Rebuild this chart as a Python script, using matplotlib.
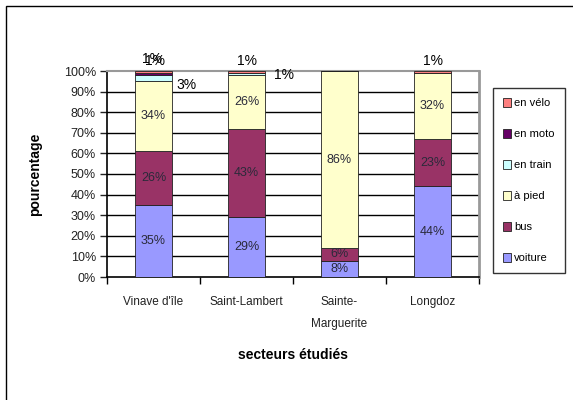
import matplotlib
matplotlib.use('Agg')
import numpy as np
import matplotlib.pyplot as plt
from matplotlib.patches import Rectangle
from matplotlib.ticker import FixedLocator, PercentFormatter

plt.rcParams['font.family'] = ['Liberation Sans', 'DejaVu Sans']

# data
sectors = ["Vinave d'île", "Saint-Lambert", "Sainte-\nMarguerite", "Longdoz"]
modes = ["voiture", "bus", "à pied", "en train", "en moto", "en vélo"]
voiture = [35, 29, 8, 44]
bus = [26, 43, 6, 23]
a_pied = [34, 26, 86, 32]
en_train = [3, 1, 0, 0]
en_moto = [1, 0, 0, 0]
en_velo = [1, 1, 0, 1]
colors = ['#9999FF', '#993366', '#FFFFCC', '#CCFFFF', '#660066', '#FF8080']

series = [voiture, bus, a_pied, en_train, en_moto, en_velo]

fig = plt.figure(figsize=(5.73, 4.0), dpi=100)
ax = fig.add_axes([107 / 573, 1 - 277 / 400, 372 / 573, 206 / 400])

x = np.arange(len(sectors))
bottom = np.zeros(len(sectors))
bars = []
for vals, name, col in zip(series, modes, colors):
    b = ax.bar(x, vals, 0.4, bottom=bottom, color=col, edgecolor='#222222',
               linewidth=0.6, label=name, zorder=3)
    bars.append(b)
    for i, v in enumerate(vals):
        if v >= 5:
            ax.text(x[i], bottom[i] + v / 2, f"{v}%", ha='center', va='center',
                    fontsize=9, color='#2a2a3a', zorder=4)
    bottom += np.array(vals)

# small values placed outside the bars (offsets in points)
small = [
    (0, 4, (-1, 11)),   # Vinave moto
    (0, 5, (1, 8)),     # Vinave velo
    (0, 3, (24, -5)),   # Vinave train
    (1, 5, (0, 8)),     # Saint-Lambert velo
    (1, 3, (27, -1)),   # Saint-Lambert train
    (3, 5, (0, 8)),     # Longdoz velo
]
for i, s, off in small:
    v = series[s][i]
    base = sum(series[k][i] for k in range(s))
    ax.annotate(f"{v}%", (x[i], base + v / 2), xytext=off,
                textcoords='offset points', ha='center', va='center',
                fontsize=10, color='black', zorder=5, annotation_clip=False)

ax.set_ylim(0, 100)
ax.set_xlim(-0.5, 3.5)
ax.yaxis.set_major_locator(FixedLocator(np.arange(0, 101, 10)))
ax.yaxis.set_major_formatter(PercentFormatter(100, decimals=0))
ax.tick_params(axis='y', length=5, width=1, pad=3, labelsize=9, colors='#222222')
ax.set_xticks(x)
ax.set_xticklabels(sectors, fontsize=8.5, linespacing=2.1)
ax.set_xticks(np.arange(-0.5, 4, 1), minor=True)
ax.tick_params(axis='x', which='major', length=0, pad=14, colors='#222222')
ax.tick_params(axis='x', which='minor', length=5, width=1, direction='out')

for yv in range(10, 100, 10):
    ax.axhline(yv, color='black', linewidth=1, zorder=1)
ax.spines['left'].set_linewidth(1.2)
ax.spines['bottom'].set_linewidth(1.2)
ax.spines['top'].set_color('#999999')
ax.spines['right'].set_color('#999999')
ax.spines['top'].set_linewidth(1.5)
ax.spines['right'].set_linewidth(2)

fig.text(35 / 573, 1 - 174 / 400, "pourcentage", rotation=90, ha='center',
         va='center', fontsize=10, fontweight='bold')
fig.text(293 / 573, 1 - 355 / 400, "secteurs étudiés", ha='center',
         va='center', fontsize=10, fontweight='bold')

handles = bars[::-1]
leg = fig.legend(handles, modes[::-1], loc='upper left',
                 bbox_to_anchor=(493 / 573, 1 - 88 / 400), fontsize=8,
                 frameon=True, fancybox=False, edgecolor='black',
                 handlelength=0.7, handleheight=0.9, handletextpad=0.3,
                 labelspacing=1.85, borderpad=0.9, borderaxespad=0)
leg.get_frame().set_linewidth(1)

fig.add_artist(Rectangle((6 / 573, -0.1), 1.2, 1 - 6 / 400 + 0.1,
                         transform=fig.transFigure, fill=False,
                         edgecolor='black', linewidth=1))

fig.savefig('out.png', dpi=100)
